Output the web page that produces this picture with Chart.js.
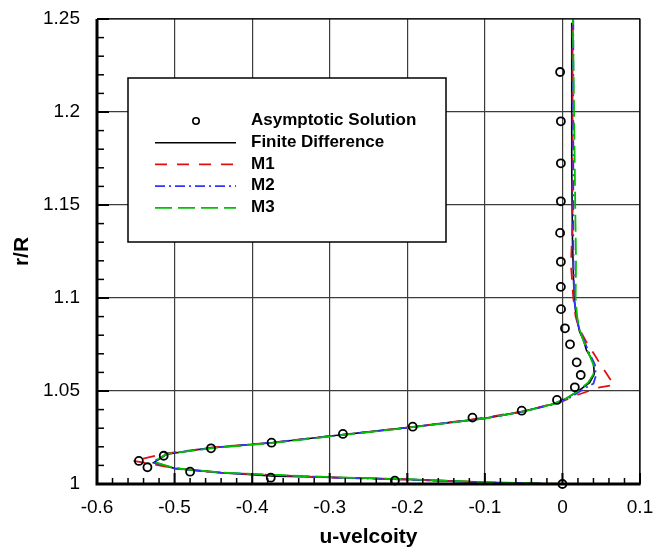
<!DOCTYPE html>
<html>
<head>
<meta charset="utf-8">
<script src="https://cdn.jsdelivr.net/npm/chart.js@4.4.0/dist/chart.umd.min.js"></script>
<style>
  html, body { margin: 0; padding: 0; background: #fff; }
  #wrap { width: 655px; height: 550px; }
</style>
</head>
<body>
<div id="wrap"><canvas id="profil" width="655" height="550"></canvas></div>
<script>
// vitesse axiale u en fonction de r/R
const uAsym = [0.0, -0.216, -0.376, -0.48, -0.535, -0.546, -0.514, -0.453, -0.375, -0.283, -0.193, -0.116, -0.0525, -0.007, 0.016, 0.0236, 0.0184, 0.0098, 0.0033, -0.0018, -0.002, -0.002, -0.003, -0.002, -0.002, -0.002, -0.003];
const rAsym = [1.0, 1.0018, 1.0034, 1.0066, 1.009, 1.0124, 1.0152, 1.0192, 1.0222, 1.0269, 1.0308, 1.0357, 1.0394, 1.0452, 1.052, 1.0586, 1.0654, 1.0751, 1.0837, 1.094, 1.106, 1.1195, 1.135, 1.152, 1.1724, 1.195, 1.2215];

const uFD = [0.0, -0.05, -0.102, -0.2, -0.3, -0.37, -0.44, -0.5, -0.527, -0.51, -0.454, -0.375, -0.29, -0.2, -0.1, -0.052, -0.012, 0.005, 0.022, 0.035, 0.041, 0.040, 0.031, 0.027, 0.022, 0.018, 0.015, 0.013, 0.012, 0.012, 0.012];
const rFD = [1.0, 1.0004, 1.0009, 1.0025, 1.0036, 1.0042, 1.0061, 1.0084, 1.0115, 1.016, 1.0195, 1.0222, 1.0262, 1.0303, 1.0353, 1.0389, 1.043, 1.046, 1.0505, 1.0545, 1.059, 1.0657, 1.072, 1.0774, 1.082, 1.09, 1.1, 1.13, 1.17, 1.21, 1.248];

const uM1 = [0.0, -0.1, -0.2, -0.3, -0.44, -0.5, -0.553, -0.51, -0.45, -0.375, -0.29, -0.2, -0.12, -0.05, 0.0, 0.02, 0.034, 0.048, 0.0665, 0.048, 0.040, 0.03, 0.022, 0.017, 0.014, 0.011, 0.013, 0.013, 0.013];
const rM1 = [1.0, 1.0009, 1.0024, 1.0035, 1.006, 1.0085, 1.0125, 1.0165, 1.0197, 1.0222, 1.0262, 1.0303, 1.0345, 1.039, 1.0445, 1.048, 1.050, 1.052, 1.0532, 1.065, 1.0704, 1.077, 1.083, 1.09, 1.1, 1.118, 1.14, 1.2, 1.25];

const uM2 = [0.0, -0.1, -0.2, -0.3, -0.44, -0.5, -0.528, -0.51, -0.45, -0.375, -0.29, -0.2, -0.1, -0.05, -0.01, 0.01, 0.031, 0.040, 0.043, 0.042, 0.034, 0.028, 0.022, 0.018, 0.015, 0.014, 0.014, 0.014];
const rM2 = [1.0, 1.0008, 1.0024, 1.0035, 1.006, 1.0083, 1.0118, 1.0162, 1.0195, 1.0222, 1.0262, 1.0303, 1.0353, 1.039, 1.043, 1.0465, 1.052, 1.054, 1.058, 1.064, 1.071, 1.077, 1.083, 1.09, 1.1, 1.13, 1.18, 1.25];

const uM3 = [0.0, -0.1, -0.2, -0.3, -0.44, -0.5, -0.527, -0.51, -0.45, -0.375, -0.29, -0.2, -0.1, -0.05, -0.012, 0.005, 0.02, 0.033, 0.040, 0.040, 0.033, 0.027, 0.022, 0.019, 0.017, 0.0175, 0.0165, 0.015, 0.0135];
const rM3 = [1.0, 1.001, 1.0026, 1.0037, 1.0062, 1.0085, 1.012, 1.0162, 1.0193, 1.022, 1.026, 1.0302, 1.0352, 1.039, 1.043, 1.046, 1.050, 1.0545, 1.059, 1.064, 1.071, 1.077, 1.083, 1.09, 1.1, 1.12, 1.15, 1.2, 1.25];

const xTicks = ['-0.6', '-0.5', '-0.4', '-0.3', '-0.2', '-0.1', '0', '0.1'];
const yTicks = ['1', '1.05', '1.1', '1.15', '1.2', '1.25'];

const paires = (us, rs) => us.map((u, i) => ({ x: u, y: rs[i] }));

// cadre, graduations internes et boite de legende
const cadre = {
    id: 'cadre',
    afterDatasetsDraw(chart) {
        const { ctx, chartArea: a, scales: { x, y } } = chart;
        ctx.save();

        // boite de legende
        const bx = 128, by = 78, bw = 318, bh = 164;
        ctx.fillStyle = '#fff';
        ctx.fillRect(bx, by, bw, bh);
        ctx.strokeStyle = '#000';
        ctx.lineWidth = 1.5;
        ctx.strokeRect(bx, by, bw, bh);

        const ordre = [4, 0, 1, 2, 3];
        const noms = ['Asymptotic Solution', 'Finite Difference', 'M1', 'M2', 'M3'];
        const ds = chart.data.datasets;
        ctx.font = 'bold 17px "Liberation Sans", Arial, sans-serif';
        ctx.textBaseline = 'middle';
        ordre.forEach((k, i) => {
            const d = ds.find(s => s.cle === k);
            const ly = 121 + i * 21.7;
            if (d.showLine === false) {
                ctx.beginPath();
                ctx.setLineDash([]);
                ctx.lineWidth = 1.6;
                ctx.strokeStyle = '#000';
                ctx.arc(196, ly, 3.2, 0, Math.PI * 2);
                ctx.stroke();
            } else {
                ctx.beginPath();
                ctx.setLineDash(d.borderDash || []);
                ctx.lineWidth = d.borderWidth;
                ctx.strokeStyle = d.borderColor;
                ctx.moveTo(155, ly);
                ctx.lineTo(236, ly);
                ctx.stroke();
            }
            ctx.fillStyle = '#000';
            ctx.fillText(noms[i], 251, ly - 0.5);
        });
        ctx.setLineDash([]);

        // graduations tournees vers l'interieur
        ctx.strokeStyle = '#000';
        for (let i = 0; i <= 35; i++) {
            const px = x.getPixelForValue(-0.6 + i * 0.02);
            const maj = i % 5 === 0;
            ctx.lineWidth = maj ? 2 : 1.5;
            ctx.beginPath();
            ctx.moveTo(px, a.bottom);
            ctx.lineTo(px, a.bottom - (maj ? 11 : 6));
            ctx.stroke();
        }
        for (let i = 0; i <= 25; i++) {
            const py = y.getPixelForValue(1 + i * 0.01);
            const maj = i % 5 === 0;
            ctx.lineWidth = maj ? 2 : 1.5;
            ctx.beginPath();
            ctx.moveTo(a.left, py);
            ctx.lineTo(a.left + (maj ? 12 : 7), py);
            ctx.stroke();
        }

        // bords : gauche et bas epais, haut et droite fins
        ctx.lineWidth = 1.2;
        ctx.beginPath();
        ctx.moveTo(a.left, a.top);
        ctx.lineTo(a.right, a.top);
        ctx.lineTo(a.right, a.bottom);
        ctx.stroke();
        ctx.lineWidth = 3;
        ctx.beginPath();
        ctx.moveTo(a.left, a.top);
        ctx.lineTo(a.left, a.bottom);
        ctx.lineTo(a.right + 0.6, a.bottom);
        ctx.stroke();
        ctx.restore();
    }
};

const police = '"Liberation Sans", Arial, sans-serif';
const grille = { color: '#3c3c3c', lineWidth: 1.2, drawTicks: false };

new Chart(document.getElementById('profil'), {
    type: 'scatter',
    data: {
        datasets: [
            {
                cle: 4, label: 'Asymptotic Solution', data: paires(uAsym, rAsym),
                showLine: false, pointRadius: 4, pointBorderWidth: 1.8,
                pointBorderColor: '#000', pointBackgroundColor: 'rgba(255,255,255,0)',
                clip: false, order: 0
            },
            {
                cle: 3, label: 'M3', data: paires(uM3, rM3), showLine: true,
                borderColor: '#00c000', borderWidth: 1.8, borderDash: [17, 6],
                pointRadius: 0, order: 1
            },
            {
                cle: 2, label: 'M2', data: paires(uM2, rM2), showLine: true,
                borderColor: '#3333ff', borderWidth: 1.8, borderDash: [10, 4, 2, 4],
                pointRadius: 0, order: 2
            },
            {
                cle: 1, label: 'M1', data: paires(uM1, rM1), showLine: true,
                borderColor: '#e01010', borderWidth: 1.8, borderDash: [12, 10],
                pointRadius: 0, order: 3
            },
            {
                cle: 0, label: 'Finite Difference', data: paires(uFD, rFD), showLine: true,
                borderColor: '#000', borderWidth: 1.6,
                pointRadius: 0, order: 4
            }
        ]
    },
    options: {
        responsive: false,
        devicePixelRatio: 1,
        animation: false,
        layout: { padding: { left: 0, right: 15, top: 19, bottom: 0 } },
        plugins: { legend: { display: false }, tooltip: { enabled: false } },
        scales: {
            x: {
                type: 'linear', min: -0.6, max: 0.1,
                grid: grille,
                border: { display: false },
                ticks: {
                    stepSize: 0.1, padding: 12, color: '#000',
                    font: { family: police, size: 19 },
                    callback: (v, i) => xTicks[i]
                },
                title: {
                    display: true, text: 'u-velcoity', color: '#000',
                    font: { family: police, size: 21, weight: 'bold' },
                    padding: { top: 0, bottom: 0 }
                },
                afterFit: s => { s.height = 66; s.paddingLeft = 0; s.paddingRight = 0; }
            },
            y: {
                type: 'linear', min: 1, max: 1.25,
                grid: grille,
                border: { display: false },
                ticks: {
                    stepSize: 0.05, padding: 17, color: '#000',
                    font: { family: police, size: 19 },
                    callback: (v, i) => yTicks[i]
                },
                title: {
                    display: true, text: 'r/R', color: '#000',
                    font: { family: police, size: 21, weight: 'bold' },
                    padding: { top: 10, bottom: 0 }
                },
                afterFit: s => { s.width = 97; s.paddingTop = 0; s.paddingBottom = 0; }
            }
        }
    },
    plugins: [cadre]
});
</script>
</body>
</html>
